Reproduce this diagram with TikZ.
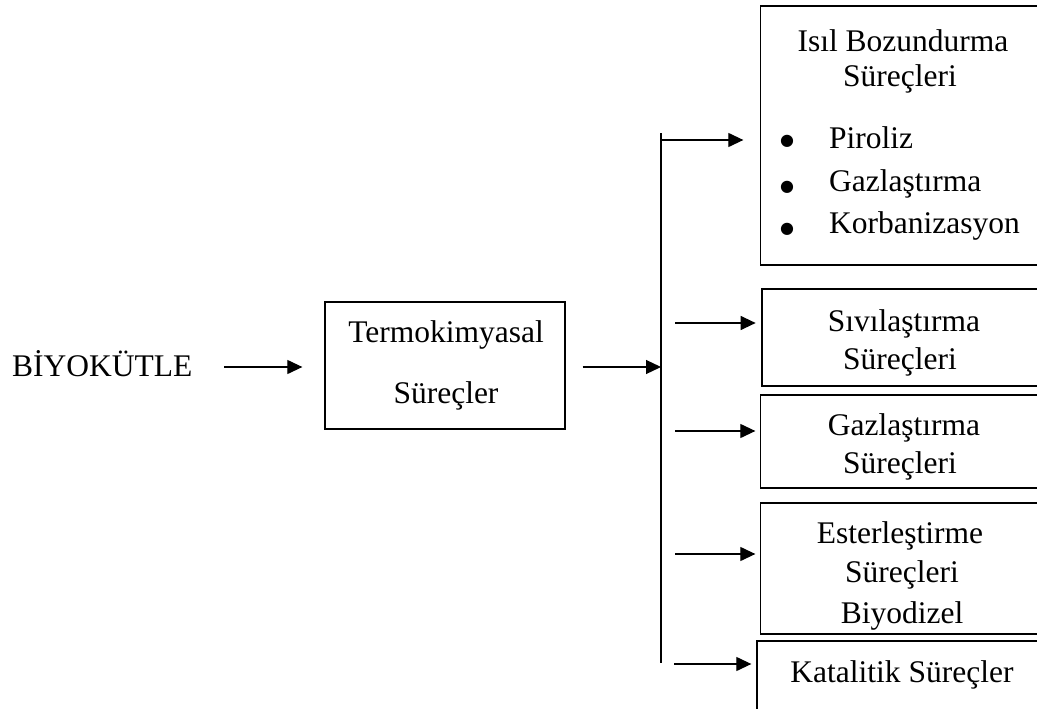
\documentclass[tikz,border=0pt]{standalone}
\usepackage{fontspec}
\setmainfont{Liberation Serif}
\newfontfamily\dejavu{DejaVu Sans}
\usetikzlibrary{arrows.meta}
\newcommand\bigtxt{\fontsize{31.5}{38}\selectfont}
\newcommand\bultxt{\dejavu\fontsize{16}{18}\selectfont}
\tikzset{
  box/.style={draw, line width=1.3pt, rectangle, inner sep=0pt},
  txt/.style={inner sep=0pt, anchor=base, font=\bigtxt},
  bul/.style={inner sep=0pt, anchor=base, font=\bultxt},
  arr/.style={line width=1.2pt, -{Triangle[length=15pt,width=14pt]}},
  trunk/.style={line width=1.2pt},
}
\begin{document}
\begin{tikzpicture}[x=1pt,y=-1pt]
\useasboundingbox (0,0) rectangle (1037,709);
\clip (0,0) rectangle (1037,709);
\fill[white] (0,0) rectangle (1037,709);

% left part
\node[txt, anchor=base west] (bio) at (12,376) {BİYOKÜTLE};
\node[box, minimum width=240pt, minimum height=127pt] (termo) at (445,365.5) {};
\node[txt] (termo1) at (446,342) {Termokimyasal};
\node[txt] (termo2) at (446,403) {Süreçler};

% right boxes
\node[box, minimum width=284.3pt, minimum height=259pt] (isil) at (902.85,135.5) {};
\node[txt] (isil1) at (903,52) {Isıl Bozundurma};
\node[txt] (isil2) at (900,87) {Süreçleri};
\node[bul] (b1) at (787,146) {●};
\node[bul] (b2) at (787,191) {●};
\node[bul] (b3) at (787,233) {●};
\node[txt, anchor=base west] (l1) at (829,148) {Piroliz};
\node[txt, anchor=base west] (l2) at (829,191) {Gazlaştırma};
\node[txt, anchor=base west] (l3) at (829,233) {Korbanizasyon};

\node[box, minimum width=283pt, minimum height=97pt] (sivi) at (903.5,337.5) {};
\node[txt] (sivi1) at (904,331) {Sıvılaştırma};
\node[txt] (sivi2) at (900,369) {Süreçleri};

\node[box, minimum width=284.3pt, minimum height=93pt] (gaz) at (902.85,441.5) {};
\node[txt] (gaz1) at (904,435) {Gazlaştırma};
\node[txt] (gaz2) at (900,473) {Süreçleri};

\node[box, minimum width=284.3pt, minimum height=131pt] (ester) at (902.85,568.5) {};
\node[txt] (ester1) at (900,543) {Esterleştirme};
\node[txt] (ester2) at (902,582) {Süreçleri};
\node[txt] (ester3) at (902,623) {Biyodizel};

\node[box, minimum width=288pt, minimum height=79pt] (kat) at (901,680.5) {};
\node[txt] (kat1) at (902,682) {Katalitik Süreçler};

% connectors
\coordinate (a1) at (224,367);
\coordinate (t2) at (661,367);
\coordinate (trunktop) at (661,133);
\coordinate (trunkbot) at (661,663);
\coordinate (s1) at (661,140);
\coordinate (s2) at (675,323);
\coordinate (s3) at (675,431);
\coordinate (s4) at (675,554);
\coordinate (s5) at (674,664);

\draw[arr, shorten >=22pt] (a1) -- (termo.west |- a1);
\draw[arr, shorten <=17pt] (termo.east |- t2) -- (t2);
\draw[trunk] (trunktop) -- (trunkbot);
\draw[arr, shorten >=16.7pt] (s1) -- (isil.west |- s1);
\draw[arr, shorten >=5.7pt] (s2) -- (sivi.west |- s2);
\draw[arr, shorten >=4.7pt] (s3) -- (gaz.west |- s3);
\draw[arr, shorten >=4.7pt] (s4) -- (ester.west |- s4);
\draw[arr, shorten >=5pt] (s5) -- (kat.west |- s5);
\end{tikzpicture}
\end{document}
